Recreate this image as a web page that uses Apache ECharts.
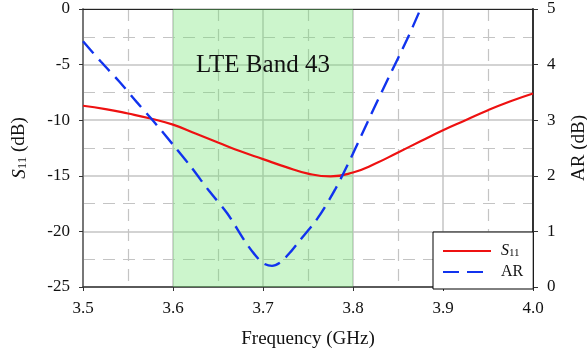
<!DOCTYPE html>
<html>
<head>
<meta charset="utf-8">
<script src="https://cdn.jsdelivr.net/npm/echarts@6/dist/echarts.min.js"></script>
<style>
html,body{margin:0;padding:0;background:#fff;}
#c{width:587px;height:352px;}
</style>
</head>
<body>
<div id="c"></div>
<script>
// Frequency (GHz) and S11 (dB)
const s11Freq = [3.50, 3.525, 3.55, 3.575, 3.60, 3.625, 3.65, 3.675, 3.70, 3.725, 3.75, 3.775, 3.80, 3.825, 3.85, 3.875, 3.90, 3.925, 3.95, 3.975, 4.00];
const s11Vals = [-8.7, -9.0, -9.4, -9.85, -10.4, -11.2, -12.0, -12.8, -13.5, -14.2, -14.8, -15.05, -14.7, -13.9, -12.9, -11.9, -10.9, -10.0, -9.1, -8.3, -7.6];
// Frequency (GHz) and AR (dB)
const arFreq = [3.50, 3.52, 3.54, 3.56, 3.58, 3.60, 3.62, 3.64, 3.66, 3.68, 3.69, 3.70, 3.71, 3.72, 3.73, 3.74, 3.76, 3.78, 3.80, 3.82, 3.84, 3.86, 3.875];
const arVals = [4.42, 4.05, 3.70, 3.32, 2.95, 2.56, 2.16, 1.73, 1.33, 0.82, 0.60, 0.43, 0.38, 0.45, 0.62, 0.82, 1.22, 1.75, 2.40, 3.10, 3.78, 4.45, 5.0];
// Band
const bandStart = 3.6;
const bandEnd = 3.8;
const bandLabel = 'LTE Band 43';
// Axis setup
const xTicks = [3.5, 3.6, 3.7, 3.8, 3.9, 4.0];
const s11Ticks = [-25, -20, -15, -10, -5, 0];
const arTicks = [0, 1, 2, 3, 4, 5];

const FONT = 'Liberation Serif';
const gridColor = '#c4c4c4';

const chart = echarts.init(document.getElementById('c'), null, {renderer: 'canvas'});

const s11Data = s11Freq.map((f, i) => [f, s11Vals[i]]);
const arData = arFreq.map((f, i) => [f, arVals[i]]);

const nameRich = {
  i: {fontFamily: FONT, fontSize: 19, fontStyle: 'italic', color: '#111', verticalAlign: 'top', lineHeight: 19},
  s: {fontFamily: FONT, fontSize: 13, color: '#111', verticalAlign: 'bottom', lineHeight: 14},
  n: {fontFamily: FONT, fontSize: 19, color: '#111', verticalAlign: 'top', lineHeight: 19}
};

chart.setOption({
  animation: false,
  backgroundColor: '#fff',
  grid: {left: 83, right: 54, top: 9, bottom: 65, containLabel: false, outerBoundsMode: 'none'},
  legend: {
    orient: 'vertical',
    left: 433, top: 232,
    padding: [11, 10, 9, 9],
    itemGap: 5,
    itemWidth: 48,
    itemHeight: 14,
    backgroundColor: '#fff',
    borderColor: '#000',
    borderWidth: 1,
    borderRadius: 0,
    itemStyle: {opacity: 0},
    data: ['S11', 'AR'],
    formatter: name => name === 'S11' ? '{i|S}{s|11}' : '{n|AR}',
    textStyle: {
      fontFamily: FONT, fontSize: 16, color: '#111', padding: [0, 0, 0, 5],
      rich: {
        i: {fontFamily: FONT, fontSize: 16, fontStyle: 'italic', color: '#111', verticalAlign: 'top', lineHeight: 16},
        s: {fontFamily: FONT, fontSize: 11, color: '#111', verticalAlign: 'bottom', lineHeight: 12},
        n: {fontFamily: FONT, fontSize: 16, color: '#111'}
      }
    }
  },
  xAxis: [{
    type: 'value', min: 3.5, max: 4.0, interval: 0.1,
    name: 'Frequency (GHz)', nameLocation: 'middle', nameGap: 43,
    nameTextStyle: {fontFamily: FONT, fontSize: 19, color: '#111'},
    axisLine: {show: true, onZero: false, lineStyle: {color: '#333', width: 1.5}},
    axisTick: {show: true, inside: false, length: 4, lineStyle: {color: '#333'}},
    axisLabel: {fontFamily: FONT, fontSize: 17, color: '#111', margin: 13,
      formatter: v => xTicks.some(t => Math.abs(t - v) < 1e-6) ? v.toFixed(1) : ''},
    splitLine: {show: true, lineStyle: {color: gridColor, width: 1.5}},
    minorTick: {show: false, splitNumber: 2},
    minorSplitLine: {show: true, lineStyle: {color: gridColor, width: 1.2, type: [12, 8]}}
  }, {
    type: 'value', position: 'top', min: 3.5, max: 4.0, interval: 0.1,
    axisLine: {show: true, onZero: false, lineStyle: {color: '#222', width: 1.2}},
    axisTick: {show: false}, axisLabel: {show: false}, splitLine: {show: false}
  }],
  yAxis: [{
    type: 'value', min: -25, max: 0, interval: 5, position: 'left',
    name: '{i|S}{s|11}{n| (dB)}', nameLocation: 'middle', nameGap: 54, nameRotate: 90,
    nameTextStyle: {fontFamily: FONT, fontSize: 19, color: '#111', rich: nameRich},
    axisLine: {show: true, onZero: false, lineStyle: {color: '#777', width: 2}},
    axisTick: {show: true, inside: false, length: 4, lineStyle: {color: '#333'}},
    axisLabel: {fontFamily: FONT, fontSize: 17, color: '#111', margin: 13,
      formatter: v => s11Ticks.includes(v) ? String(v) : ''},
    splitLine: {show: true, lineStyle: {color: gridColor, width: 1.5}},
    minorTick: {show: false, splitNumber: 2},
    minorSplitLine: {show: true, lineStyle: {color: gridColor, width: 1.2, type: [12, 8]}}
  }, {
    type: 'value', min: 0, max: 5, interval: 1, position: 'right',
    name: 'AR (dB)', nameLocation: 'middle', nameGap: 37, nameRotate: 90,
    nameTextStyle: {fontFamily: FONT, fontSize: 19, color: '#111'},
    axisLine: {show: true, onZero: false, lineStyle: {color: '#333', width: 2}},
    axisTick: {show: true, inside: false, length: 5, lineStyle: {color: '#333'}},
    axisLabel: {fontFamily: FONT, fontSize: 17, color: '#111', margin: 14,
      formatter: v => arTicks.includes(v) ? String(v) : ''},
    splitLine: {show: false}
  }],
  series: [{
    name: 'S11', type: 'line', xAxisIndex: 0, yAxisIndex: 0,
    data: s11Data, smooth: 0.5, symbol: 'none', clip: true,
    lineStyle: {color: '#ee1111', width: 2.2}, itemStyle: {color: '#ee1111'},
    z: 5,
    markArea: {
      silent: true,
      itemStyle: {color: 'rgba(110,225,110,0.35)'},
      label: {show: true, position: 'insideTop', distance: 44, formatter: bandLabel,
        fontFamily: FONT, fontSize: 25, color: '#111'},
      data: [[{xAxis: bandStart}, {xAxis: bandEnd}]]
    }
  }, {
    name: 'AR', type: 'line', xAxisIndex: 0, yAxisIndex: 1,
    data: arData, smooth: 0.3, symbol: 'none', clip: true,
    lineStyle: {color: '#1133ee', width: 2.4, type: [16, 8]}, itemStyle: {color: '#1133ee'},
    z: 6
  }]
});
</script>
</body>
</html>
